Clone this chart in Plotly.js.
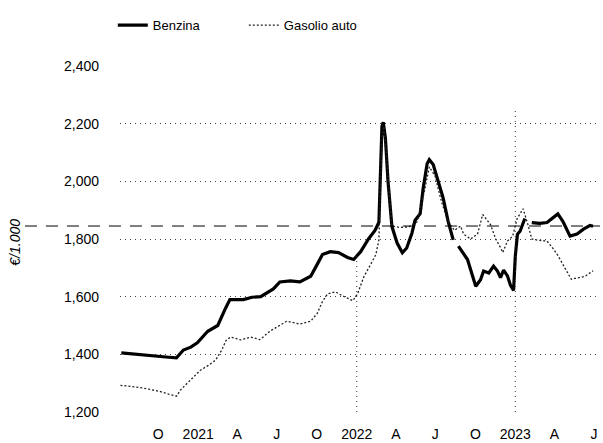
<!DOCTYPE html>
<html>
<head>
<meta charset="utf-8">
<script src="https://cdn.plot.ly/plotly-3.0.1.min.js"></script>
<style>
  body { margin: 0; background: #fff; }
  #chart { width: 603px; height: 443px; }
</style>
</head>
<body>
<div id="chart"></div>
<script>
// Data (€/1.000 litri)
let benzinaDates = [
  "2020-07-08", "2020-08-10", "2020-09-05", "2020-10-01", "2020-10-25", "2020-11-12",
  "2020-11-28", "2020-12-15", "2020-12-30", "2021-01-23", "2021-02-15", "2021-03-05",
  "2021-03-15", "2021-04-15", "2021-05-05", "2021-05-25", "2021-06-23", "2021-07-08",
  "2021-08-01", "2021-08-23", "2021-09-17", "2021-10-02", "2021-10-14", "2021-11-01",
  "2021-11-20", "2021-12-11", "2021-12-25", "2022-01-10", "2022-01-28", "2022-02-12",
  "2022-02-21", "2022-02-28", "2022-03-03", "2022-03-08", "2022-03-14", "2022-03-23",
  "2022-04-04", "2022-04-16", "2022-04-26", "2022-05-08", "2022-05-15", "2022-05-27",
  "2022-06-03", "2022-06-12", "2022-06-17", "2022-06-26", "2022-07-07", "2022-07-19",
  "2022-07-30", "2022-08-11", "2022-08-17", "2022-08-23", "2022-08-28", "2022-09-13",
  "2022-09-25", "2022-10-02", "2022-10-13", "2022-10-20", "2022-11-01", "2022-11-12",
  "2022-11-21", "2022-11-28", "2022-12-05", "2022-12-14", "2022-12-21", "2022-12-28",
  "2023-01-01", "2023-01-06", "2023-01-12", "2023-01-19", "2023-01-23", "2023-01-30",
  "2023-02-08", "2023-02-26", "2023-03-15", "2023-03-29", "2023-04-09", "2023-04-21",
  "2023-05-07", "2023-05-23", "2023-06-07", "2023-06-22", "2023-06-29"
];
let benzinaValues = [
  1405, 1400, 1395, 1392, 1390, 1388,
  1415, 1425, 1440, 1480, 1500, 1560,
  1590, 1590, 1598, 1600, 1627, 1651,
  1655, 1651, 1671, 1712, 1746, 1756,
  1753, 1736, 1729, 1756, 1800, 1830,
  1858, 2190, 2205, 2150, 2000, 1843,
  1786, 1752, 1769, 1820, 1864, 1888,
  1976, 2061, 2075, 2058, 2000, 1942,
  1864, 1797, null, 1775, 1763, 1729,
  1670, 1636, 1659, 1689, 1682, 1706,
  1689, 1666, 1692, 1672, 1639, 1622,
  1740, 1817, 1827, 1860, 1871, null,
  1857, 1854, 1857, 1874, 1887, 1860,
  1810, 1817, 1834, 1847, 1844
];

let gasolioDates = [
  "2020-07-06", "2020-07-25", "2020-08-27", "2020-10-03", "2020-10-25", "2020-11-12",
  "2020-11-21", "2020-12-11", "2021-01-06", "2021-01-25", "2021-02-10", "2021-02-24",
  "2021-03-06", "2021-03-17", "2021-04-09", "2021-05-02", "2021-05-23", "2021-06-16",
  "2021-07-08", "2021-07-24", "2021-08-23", "2021-09-17", "2021-10-02", "2021-10-14",
  "2021-10-26", "2021-11-13", "2021-11-29", "2021-12-23", "2022-01-03", "2022-01-17",
  "2022-02-02", "2022-02-14", "2022-02-21", "2022-02-28", "2022-03-04", "2022-03-10",
  "2022-03-17", "2022-03-23", "2022-04-10", "2022-05-01", "2022-05-20", "2022-06-05",
  "2022-06-17", "2022-06-30", "2022-07-15", "2022-07-30", "2022-08-14", "2022-08-28",
  "2022-09-04", "2022-09-20", "2022-10-06", "2022-10-18", "2022-11-05", "2022-11-17",
  "2022-11-28", "2022-12-03", "2022-12-14", "2022-12-26", "2023-01-05", "2023-01-19",
  "2023-01-30", "2023-02-08", "2023-02-26", "2023-03-15", "2023-03-29", "2023-04-09",
  "2023-04-25", "2023-05-10", "2023-05-23", "2023-06-10", "2023-06-29"
];
let gasolioValues = [
  1292, 1290, 1283, 1272, 1262, 1255,
  1276, 1307, 1345, 1362, 1380, 1414,
  1448, 1460, 1450, 1460, 1451, 1481,
  1502, 1515, 1505, 1515, 1542, 1583,
  1610, 1617, 1603, 1586, 1610, 1668,
  1712, 1746, 1797, 2150, 2190, 2100,
  1950, 1845, 1840, 1842, 1860, 1960,
  2050, 2020, 1930, 1860, 1830, 1845,
  1817, 1800, 1817, 1885, 1850, 1800,
  1770, 1753, 1793, 1810, 1870, 1905,
  1850, 1800, 1795, 1793, 1767, 1743,
  1700, 1660, 1665, 1670, 1690
];

let tickDates = [
  "2020-10-01", "2021-01-01", "2021-04-01", "2021-07-01", "2021-10-01", "2022-01-01",
  "2022-04-01", "2022-07-01", "2022-10-01", "2023-01-01", "2023-04-01", "2023-07-01"
];
let tickLabels = ["O", "2021", "A", "J", "O", "2022", "A", "J", "O", "2023", "A", "J"];

let refLevel = 1845;
let yearMarks = ["2022-01-01", "2023-01-01"];
let yearMarkTops = [1740, 2250];

function createChart() {
  let font = "Liberation Sans, Arial, sans-serif";

  let traces = [{
    x: benzinaDates,
    y: benzinaValues,
    name: "Benzina",
    type: "scatter",
    mode: "lines",
    connectgaps: false,
    line: { color: "#000", width: 3.2 }
  }, {
    x: gasolioDates,
    y: gasolioValues,
    name: "Gasolio auto",
    type: "scatter",
    mode: "lines",
    line: { color: "#222", width: 1.3, dash: "2px,2px" }
  }];

  let shapes = [{
    type: "line",
    xref: "paper", yref: "y",
    x0: -0.198, x1: 1, y0: refLevel, y1: refLevel,
    line: { color: "#000", width: 1, dash: "12px,9px" }
  }];
  yearMarks.forEach(function (d, i) {
    shapes.push({
      type: "line",
      xref: "x", yref: "y",
      x0: d, x1: d, y0: 1200, y1: yearMarkTops[i],
      line: { color: "#333", width: 1, dash: "1px,4px" }
    });
  });

  let layout = {
    width: 603,
    height: 443,
    margin: { l: 120, r: 3, t: 66, b: 31 },
    paper_bgcolor: "#fff",
    plot_bgcolor: "#fff",
    font: { family: font, size: 14, color: "#000" },
    showlegend: true,
    legend: {
      orientation: "h",
      x: -0.015, xanchor: "left",
      y: 1.118, yanchor: "middle",
      font: { size: 13 },
      entrywidth: 86,
      bgcolor: "rgba(0,0,0,0)"
    },
    xaxis: {
      type: "date",
      range: ["2020-07-05", "2023-07-15"],
      tickmode: "array",
      tickvals: tickDates,
      ticktext: tickLabels,
      ticks: "",
      ticklabelstandoff: 12,
      showgrid: false,
      showline: false,
      zeroline: false,
      tickfont: { size: 14 }
    },
    yaxis: {
      range: [1200, 2400],
      tickmode: "array",
      tickvals: [1200, 1400, 1600, 1800, 2000, 2200, 2400],
      tickformat: ",d",
      ticks: "",
      ticklabelstandoff: 20,
      showgrid: true,
      gridcolor: "#444",
      griddash: "1px,4px",
      gridwidth: 1,
      showline: false,
      zeroline: false,
      tickfont: { size: 14 }
    },
    shapes: shapes,
    annotations: [{
      text: "€/1.000",
      xref: "paper", yref: "y",
      x: -0.24, y: 1790,
      textangle: -90,
      showarrow: false,
      font: { size: 14, style: "italic" }
    }]
  };

  Plotly.newPlot("chart", traces, layout, { staticPlot: true });
}

createChart();
</script>
</body>
</html>
